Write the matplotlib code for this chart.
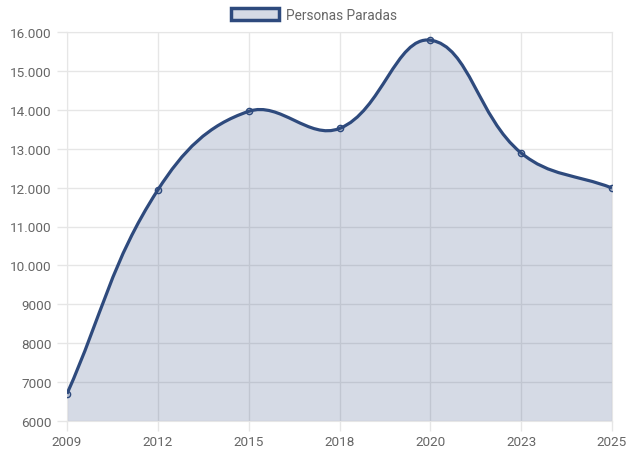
import matplotlib.pyplot as plt
import numpy as np
from matplotlib.path import Path
from matplotlib.patches import PathPatch, Patch
from matplotlib.ticker import FuncFormatter

# Datos
years = ['2009', '2012', '2015', '2018', '2020', '2023', '2025']
parados = [6700, 11940, 13960, 13520, 15790, 12890, 11990]

line_color = '#2e4a7d'
fill_color = (46 / 255, 74 / 255, 125 / 255, 0.2)
grid_color = '#e6e6e6'
text_color = '#666666'

plt.rcParams['font.family'] = ['Roboto', 'DejaVu Sans']

fig = plt.figure(figsize=(6.28, 4.52), dpi=100)
ax = fig.add_axes([67 / 628, 30 / 452, 545 / 628, 389 / 452])
ax.set_xlim(0, len(years) - 1)
ax.set_ylim(6000, 16000)

# Curva tipo Chart.js (tension 0.4), calculada en pixeles
x = np.arange(len(years))
pts = ax.transData.transform(np.column_stack([x, parados]))
t = 0.4
verts = [pts[0]]
codes = [Path.MOVETO]
ctrl = []
for i in range(len(pts)):
    prev = pts[max(i - 1, 0)]
    cur = pts[i]
    nxt = pts[min(i + 1, len(pts) - 1)]
    d01 = np.hypot(*(cur - prev))
    d12 = np.hypot(*(nxt - cur))
    tot = d01 + d12
    s01 = d01 / tot if tot else 0
    s12 = d12 / tot if tot else 0
    ctrl.append((cur - t * s01 * (nxt - prev), cur + t * s12 * (nxt - prev)))
for i in range(1, len(pts)):
    verts += [ctrl[i - 1][1], ctrl[i][0], pts[i]]
    codes += [Path.CURVE4] * 3
verts = ax.transData.inverted().transform(np.array(verts))

line_path = Path(verts, codes)
fill_verts = np.vstack([verts, [[x[-1], 6000], [x[0], 6000], verts[0]]])
fill_codes = codes + [Path.LINETO, Path.LINETO, Path.CLOSEPOLY]
ax.add_patch(PathPatch(Path(fill_verts, fill_codes), facecolor=fill_color, edgecolor='none', zorder=1))
ax.add_patch(PathPatch(line_path, facecolor='none', edgecolor=line_color, linewidth=2.3, zorder=3))
ax.plot(x, parados, 'o', markersize=4.5, markerfacecolor=fill_color, markeredgecolor=line_color,
        markeredgewidth=1, zorder=4)

# Ejes
ax.set_xticks(x)
ax.set_xticklabels(years)
ax.set_yticks(range(6000, 16001, 1000))
ax.yaxis.set_major_formatter(FuncFormatter(lambda v, p: f'{int(v):,}'.replace(',', '.') if v >= 10000 else f'{int(v)}'))
ax.grid(True, color=grid_color, linewidth=1)
ax.set_axisbelow(True)
ax.tick_params(colors=grid_color, labelcolor=text_color, labelsize=9.7, length=7, width=1)
ax.tick_params(axis='x', pad=3)
ax.tick_params(axis='y', pad=4)
for s in ax.spines.values():
    s.set_color(grid_color)

handle = Patch(facecolor=fill_color, edgecolor=line_color, linewidth=2.5)
fig.legend([handle], ['Personas Paradas'], loc='upper center', bbox_to_anchor=(0.5, 1.0), frameon=False,
           fontsize=9.8, labelcolor=text_color, handlelength=3.5, handleheight=1.0, handletextpad=0.5,
           borderaxespad=0.25)

fig.savefig('out.png', dpi=100)
